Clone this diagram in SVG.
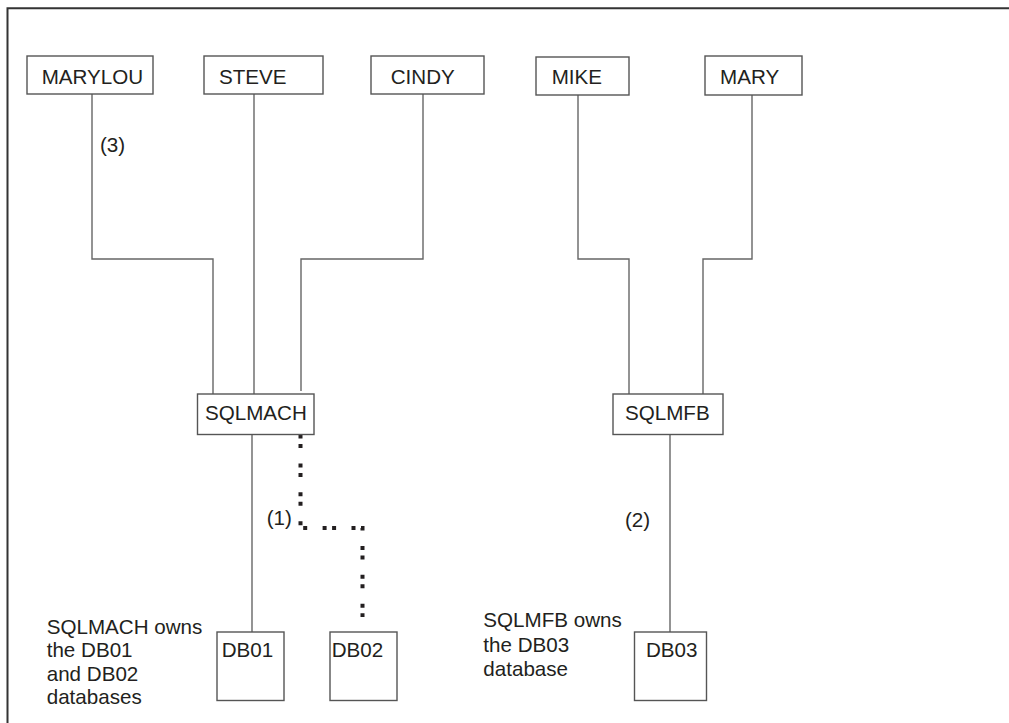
<svg xmlns="http://www.w3.org/2000/svg" width="1009" height="723" viewBox="0 0 1009 723">
<style>
.box{fill:#fff;stroke:#555;stroke-width:1.4}
.t{font-family:"Liberation Sans",Arial,sans-serif;font-size:20.6px;fill:#231f20}
.ln{fill:none;stroke:#666;stroke-width:1.4}
.dot{fill:none;stroke:#231f20;stroke-width:4;stroke-dasharray:4 5.5 4 15.4}
.frame{fill:none;stroke:#333;stroke-width:2}
</style>
<rect width="1009" height="723" fill="#fff"/>
<path class="frame" d="M7.5,723 V8.3 H1009"/>
<g id="connectors">
<path class="ln" d="M92,94 V259 H213 V394"/>
<path class="ln" d="M254,94 V394"/>
<path class="ln" d="M423,94 V259 H301 V391"/>
<path class="ln" d="M578,95 V259 H629 V394"/>
<path class="ln" d="M752,95 V259 H703 V394"/>
<path class="ln" d="M252,434.5 V632"/>
<path class="ln" d="M670,434.5 V632"/>
<path class="dot" d="M300.5,434.5 V528 H362.5 V617"/>
<text class="t" x="100" y="152">(3)</text>
<text class="t" x="266.7" y="524.5">(1)</text>
<text class="t" x="625" y="527">(2)</text>
</g>
<g id="MARYLOU"><rect class="box" x="27" y="56" width="126" height="38"/><text class="t" x="41.7" y="83.5">MARYLOU</text></g>
<g id="STEVE"><rect class="box" x="204" y="56" width="119" height="38"/><text class="t" x="219" y="83.5">STEVE</text></g>
<g id="CINDY"><rect class="box" x="371" y="56" width="113" height="38"/><text class="t" x="390.7" y="83.5">CINDY</text></g>
<g id="MIKE"><rect class="box" x="536" y="57" width="93" height="38"/><text class="t" x="551.7" y="83.5">MIKE</text></g>
<g id="MARY"><rect class="box" x="705" y="56" width="97" height="39"/><text class="t" x="720" y="83.5">MARY</text></g>
<g id="SQLMACH"><rect class="box" x="197.5" y="394" width="116.5" height="40.5"/><text class="t" x="205" y="420">SQLMACH</text></g>
<g id="SQLMFB"><rect class="box" x="613" y="394" width="110" height="40.5"/><text class="t" x="625" y="420">SQLMFB</text></g>
<g id="DB01"><rect class="box" x="217" y="632" width="67" height="68.5"/><text class="t" x="221.7" y="656.7">DB01</text></g>
<g id="DB02"><rect class="box" x="330" y="632" width="67" height="68.5"/><text class="t" x="331.7" y="656.7">DB02</text></g>
<g id="DB03"><rect class="box" x="634.5" y="632" width="72" height="68.5"/><text class="t" x="646" y="656.7">DB03</text></g>
<g id="note-sqlmach">
<text class="t" x="46.7" y="633.5">SQLMACH owns</text>
<text class="t" x="46.7" y="657">the DB01</text>
<text class="t" x="46.7" y="680.5">and DB02</text>
<text class="t" x="46.7" y="704">databases</text>
</g>
<g id="note-sqlmfb">
<text class="t" x="483.3" y="627.3">SQLMFB owns</text>
<text class="t" x="483.3" y="651.5">the DB03</text>
<text class="t" x="483.3" y="675.5">database</text>
</g>
</svg>
